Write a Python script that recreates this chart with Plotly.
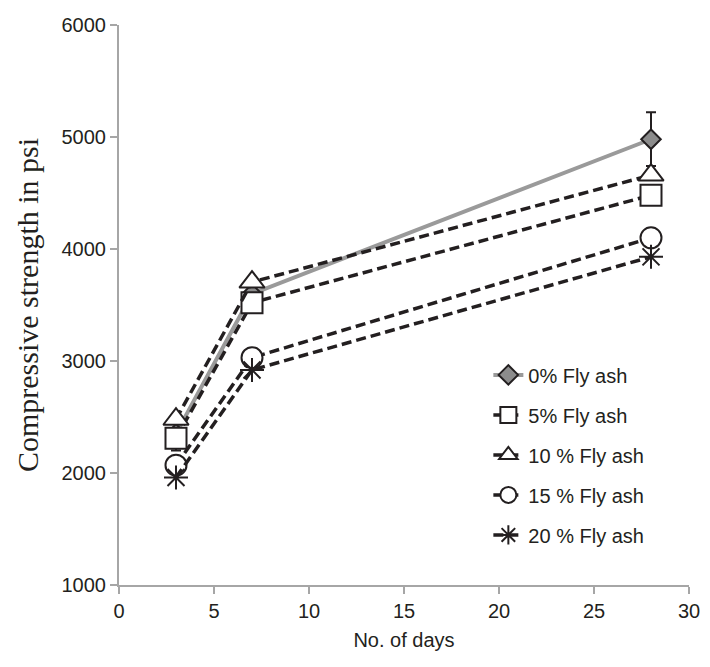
import plotly.graph_objects as go

days = [3, 7, 28]
fa0 = [2350, 3600, 4980]
fa0_err = [150, 60, 240]
fa5 = [2310, 3520, 4480]
fa10 = [2480, 3705, 4660]
fa15 = [2070, 3030, 4100]
fa20 = [1960, 2920, 3930]

x_ticks = [0, 5, 10, 15, 20, 25, 30]
y_ticks = [1000, 2000, 3000, 4000, 5000, 6000]

DASH = "10px,5px"
INK = "#231f20"
fig = go.Figure()

fig.add_trace(go.Scatter(
    x=days, y=fa0, name="0% Fly ash", mode="lines+markers", legendgroup="a",
    line=dict(color="#9a9a9a", width=4),
    marker=dict(symbol="diamond", size=15, color="#8c8c8c", line=dict(color=INK, width=2)),
    error_y=dict(type="data", array=fa0_err, color=INK, thickness=2, width=5),
))
common = dict(mode="lines+markers")
fig.add_trace(go.Scatter(
    x=days, y=fa5, name="5% Fly ash", legendgroup="b", **common,
    line=dict(color=INK, width=3.5, dash=DASH),
    marker=dict(symbol="square", size=21, color="white", line=dict(color=INK, width=2)),
))
fig.add_trace(go.Scatter(
    x=days, y=fa10, name="10 % Fly ash", legendgroup="c", **common,
    line=dict(color=INK, width=3.5, dash=DASH),
    marker=dict(symbol="triangle-up", size=22, color="white", line=dict(color=INK, width=2)),
))
fig.add_trace(go.Scatter(
    x=days, y=fa15, name="15 % Fly ash", legendgroup="d", **common,
    line=dict(color=INK, width=3.5, dash=DASH),
    marker=dict(symbol="circle", size=21, color="white", line=dict(color=INK, width=2)),
))
fig.add_trace(go.Scatter(
    x=days, y=fa20, name="20 % Fly ash", legendgroup="e", **common,
    line=dict(color=INK, width=3.5, dash=DASH),
    marker=dict(symbol="asterisk-open", size=20, color=INK, line=dict(color=INK, width=2)),
))

axis_common = dict(
    showgrid=False, zeroline=False, showline=True, linecolor="#a6a6a6", linewidth=2,
    ticks="outside", tickcolor="#a6a6a6", tickwidth=2, ticklen=7,
    tickfont=dict(family="Liberation Sans, Arial", size=20, color=INK),
    ticklabeloverflow="allow", automargin=False,
)

fig.update_layout(
    width=694, height=651,
    margin=dict(l=111, r=13, t=17, b=74),
    paper_bgcolor="white", plot_bgcolor="white",
    xaxis=dict(range=[0, 30], tickvals=x_ticks, **axis_common,
               title=dict(text="No. of days", font=dict(family="Liberation Sans, Arial", size=20, color=INK), standoff=12)),
    yaxis=dict(range=[1000, 6000], tickvals=y_ticks, **axis_common,
               title=dict(text="Compressive strength in psi", font=dict(family="Liberation Serif, Times New Roman", size=30, color=INK), standoff=14)),
    legend=dict(x=0.648, y=0.41, xanchor="left", yanchor="top", bgcolor="rgba(0,0,0,0)",
                font=dict(family="Liberation Sans, Arial", size=20, color=INK),
                traceorder="grouped", tracegroupgap=11),
    showlegend=True,
)

fig.write_html("out.html")
